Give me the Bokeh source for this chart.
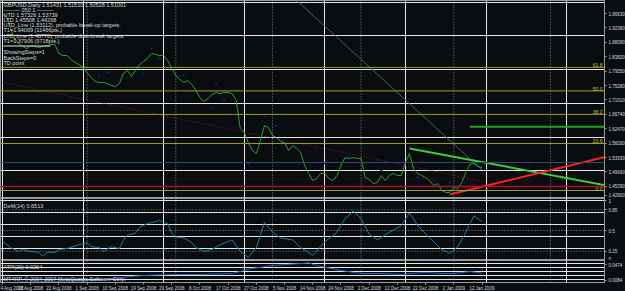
from bokeh.plotting import figure
from bokeh.layouts import column
from bokeh.models import (Range1d, LinearAxis, FixedTicker, NumeralTickFormatter,
                          Span, Label, BoxAnnotation)
from bokeh.embed import file_html
from bokeh.resources import INLINE

# ---------------- data ----------------
close = [1.9663, 1.9574, 1.9218, 1.8922, 1.8773, 1.8685, 1.8625, 1.8714, 1.8685, 1.8655,
         1.8685, 1.8714, 1.8744, 1.8744, 1.8477, 1.8418, 1.8418, 1.8299, 1.8210, 1.8151,
         1.8062, 1.7914, 1.7765, 1.7647, 1.7617, 1.7617, 1.7587, 1.7528, 1.7499, 1.7587,
         1.7884, 1.7973, 1.7795, 1.7973, 1.8151, 1.8240, 1.8329, 1.8477, 1.8447, 1.8418,
         1.8418, 1.8269, 1.8032, 1.7825, 1.7706, 1.7617, 1.7676, 1.7558, 1.7380, 1.7172,
         1.7054, 1.7143, 1.7261, 1.7321, 1.7291, 1.7321, 1.7321, 1.7291, 1.7083, 1.6253,
         1.6135, 1.5838, 1.5601, 1.5512, 1.5897, 1.6342, 1.6283, 1.6046, 1.5986, 1.5868,
         1.5838, 1.5601, 1.5749, 1.5660, 1.5542, 1.5156, 1.4919, 1.4711, 1.4771, 1.4919,
         1.4919, 1.4771, 1.4711, 1.4860, 1.5156, 1.5393, 1.5364, 1.5393, 1.5364, 1.5364,
         1.4800, 1.4741, 1.4622, 1.4652, 1.4860, 1.4711, 1.4860, 1.4919, 1.4860, 1.4860,
         1.5245, 1.5512, 1.5067, 1.4919, 1.4860, 1.4800, 1.4711, 1.4563, 1.4622, 1.4415,
         1.4356, 1.4356, 1.4504, 1.4474, 1.4652, 1.4949, 1.5186, 1.5215, 1.5126, 1.5100]
bars = list(range(len(close)))

td_bars = [14, 24, 26, 35, 37, 39, 45, 52, 53, 55, 61, 65, 68, 80, 86, 94, 103, 107, 111]
td_prices = [1.8773, 1.7825, 1.7914, 1.7884, 1.8625, 1.8329, 1.7825, 1.6876, 1.7587, 1.7083,
             1.5216, 1.6609, 1.6342, 1.5216, 1.5453, 1.5008, 1.4800, 1.4711, 1.4652]

fib_names = ["0.0", "23.6", "38.2", "50.0", "61.8"]
fib_prices = [1.4415, 1.5809, 1.6671, 1.7368, 1.8065]

reddot_bars = [0, 128]
reddot_prices = [1.7617, 1.4474]
thin_bars = [73, 119]
thin_prices = [2.0048, 1.5026]
utd_bars = [101, 150]
utd_prices = [1.5660, 1.4563]
ltd_bars = [111, 150]
ltd_prices = [1.4296, 1.5423]
target_bars = [116, 150]
target_prices = [1.6302, 1.6302]
hline_red = 1.4534
hline_blue = 1.5245

price_ticks = [1.96630, 1.92360, 1.88090, 1.83820, 1.79550, 1.75280, 1.71010,
               1.66740, 1.62470, 1.58200, 1.53930, 1.49660, 1.45390, 1.42800]
tag_prices = [1.52453, 1.51001, 1.45340]
tag_labels = ["1.52453", "1.51001", "1.45340"]

dem_bars = [0, 2, 4, 5, 7, 9, 10, 11, 13, 14, 16, 19, 21, 22, 24, 25, 27, 29, 30, 31,
            33, 34, 36, 37, 39, 40, 41, 42, 43, 45, 47, 48, 50, 52, 54, 57, 59, 61, 63, 65,
            67, 69, 72, 74, 77, 80, 83, 85, 87, 89, 91, 93, 96, 99, 101, 103, 106, 109, 111, 113,
            115, 117, 119]
dem_vals = [0.314, 0.211, 0.146, 0.179, 0.146, 0.130, 0.065, 0.130, 0.130, 0.179,
            0.195, 0.260, 0.293, 0.228, 0.211, 0.146, 0.228, 0.195, 0.341, 0.423,
            0.455, 0.553, 0.618, 0.634, 0.667, 0.634, 0.618, 0.455, 0.390, 0.374,
            0.293, 0.211, 0.146, 0.179, 0.260, 0.341, 0.146, 0.049, 0.211, 0.634,
            0.472, 0.374, 0.341, 0.211, 0.081, 0.309, 0.472, 0.699, 0.829, 0.699,
            0.439, 0.341, 0.472, 0.585, 0.797, 0.585, 0.374, 0.179, 0.114, 0.228,
            0.472, 0.748, 0.6513]
dem_levels = [0.85, 0.5, 0.15]
dem_ticks = [0, 0.15, 0.5, 0.85, 1]

atr_bars = [0, 12, 24, 27, 32, 35, 42, 49, 57, 62, 67, 74, 76, 78, 84, 89, 94, 99, 101,
            105, 109, 112, 116, 119]
atr_vals = [0.0035, 0.0060, 0.0084, 0.0133, 0.0182, 0.0206, 0.0230, 0.0230, 0.0255, 0.0377,
            0.0450, 0.0498, 0.0511, 0.0450, 0.0328, 0.0255, 0.0255, 0.0230, 0.0255, 0.0279,
            0.0255, 0.0255, 0.0303, 0.0264]
atr_ticks = [0.0084, 0.0474]

date_bars = [0, 7, 14, 21, 28, 35, 42, 49, 56, 63, 70, 77, 84, 91, 98, 105, 112, 119]
date_labels = ["4 Aug 2008", "13 Aug 2008", "22 Aug 2008", "1 Sep 2008", "10 Sep 2008",
               "19 Sep 2008", "29 Sep 2008", "8 Oct 2008", "17 Oct 2008", "27 Oct 2008",
               "5 Nov 2008", "14 Nov 2008", "24 Nov 2008", "3 Dec 2008", "12 Dec 2008",
               "22 Dec 2008", "2 Jan 2009", "12 Jan 2009"]
month_bars = [21, 43, 67, 89, 112, 136]

header_lines = ["GBPUSD,Daily  1.51431 1.51510 1.50528 1.51001",
                "\u2014\u2014\u2014  050 1  \u2014\u2014\u2014",
                "UTD  1.57326  1.53739",
                "LTD  1.45508  1.44268",
                "UTD_Line (1.53112), probable break-up targets:",
                "T1=1.94069 (11466pts.)",
                "LTD_Line (1.48776), probable downbreak targets:",
                "T1=1.37906 (9718pts.)"]
lower_lines = ["ShowingSteps=1", "BackSteps=0", "TD point"]

# ---------------- styling ----------------
BG = "#0a0d10"
FONT = "Liberation Sans"
AXC = "#9a9a9a"
TXT = "#d8d8d8"
FW = 604
xr = Range1d(-0.5, 149.4)


def base(fh, yr):
    p = figure(frame_width=FW, frame_height=fh, x_range=xr, y_range=yr,
               output_backend="svg", toolbar_location=None,
               x_axis_location=None, y_axis_location=None,
               min_border_left=0, min_border_right=0, min_border_top=0, min_border_bottom=0,
               background_fill_color=BG, border_fill_color=BG,
               outline_line_color=AXC, outline_line_width=1)
    for mb in month_bars:
        p.add_layout(Span(location=mb, dimension="height", line_color="#8a8a8a",
                          line_dash="1 2", line_width=1))
    return p


def raxis(p, ticks, fmt=None, overrides=None):
    ax = LinearAxis(ticker=FixedTicker(ticks=ticks), axis_line_color=AXC,
                    major_tick_line_color=AXC, major_tick_out=2, major_tick_in=0,
                    minor_tick_line_color=None, major_label_text_color=TXT,
                    major_label_text_font=FONT, major_label_text_font_size="4.5px",
                    major_label_standoff=2)
    if fmt is not None:
        ax.formatter = fmt
    if overrides is not None:
        ax.major_label_overrides = overrides
    p.add_layout(ax, "right")


def txt(p, x, y, s, color=TXT, size="5.5px", align="left", xu="screen", yu="screen",
        baseline="middle"):
    p.add_layout(Label(x=x, y=y, x_units=xu, y_units=yu, text=s, text_color=color,
                       text_font=FONT, text_font_size=size, text_align=align,
                       text_baseline=baseline))


# ---------------- main pane ----------------
MH = 198
p1 = base(MH, Range1d(1.41778, 2.00485))
for name, lv in zip(fib_names, fib_prices):
    p1.add_layout(Span(location=lv, dimension="width", line_color="#9c9c28", line_width=1))
    txt(p1, FW - 2, lv, name, color="#c8c83c", size="5px", align="right", yu="data",
        baseline="bottom")
p1.add_layout(Span(location=hline_blue, dimension="width", line_color="#2a4a78", line_width=1))
p1.add_layout(Span(location=hline_red, dimension="width", line_color="#b0102a", line_width=1.5))

p1.line(reddot_bars, reddot_prices, line_color="#8c1a3a", line_width=1, line_dash="1 2")
p1.line(thin_bars, thin_prices, line_color="#2f6e58", line_width=1)
p1.line(bars, close, line_color="#2ea02e", line_width=1)
p1.scatter(td_bars, td_prices, size=1.5, color="#1c1c96")
p1.line(target_bars, target_prices, line_color="#1fa01f", line_width=2)
p1.line(utd_bars, utd_prices, line_color="#3ccc3c", line_width=2)
p1.line(ltd_bars, ltd_prices, line_color="#ff2020", line_width=2)

raxis(p1, price_ticks, fmt=NumeralTickFormatter(format="0.00000"))

tag_bg = ["#1f8f1f", "#f0f0f0", "#e0305a"]
tag_fg = ["#e8ffe8", "#000000", "#ffffff"]
for tp, tl, bg, fg in zip(tag_prices, tag_labels, tag_bg, tag_fg):
    p1.add_layout(Label(x=FW + 1, y=tp, x_units="screen", y_units="data", text=tl,
                        text_color=fg, text_font=FONT, text_font_size="4.5px",
                        text_baseline="middle", background_fill_color=bg,
                        background_fill_alpha=1.0))

header_y = [4, 9.5, 14.5, 19.5, 24.5, 29.5, 35, 40.5]
for s, yc in zip(header_lines, header_y):
    txt(p1, 3, MH - yc, s)
p1.add_layout(BoxAnnotation(left=3, right=50, top=MH - 45, bottom=MH - 46,
                            left_units="screen", right_units="screen",
                            top_units="screen", bottom_units="screen",
                            fill_color="#e0e0e0", fill_alpha=1, line_color=None))
for s, yc in zip(lower_lines, [51.5, 57, 62.5]):
    txt(p1, 3, MH - yc, s)

# ---------------- DeMarker pane ----------------
DH = 62
p2 = base(DH, Range1d(-0.007, 1.041))
for lv in dem_levels:
    p2.add_layout(Span(location=lv, dimension="width", line_color="#8a8a8a",
                       line_dash="1 2", line_width=1))
p2.line(dem_bars, dem_vals, line_color="#1f7a9c", line_width=1)
raxis(p2, dem_ticks, overrides={0: "0", 0.15: "0.15", 0.5: "0.5", 0.85: "0.85", 1: "1"})
txt(p2, 3, DH - 7, "DeM(14) 0.6513")

# ---------------- ATR pane ----------------
AH = 22
p3 = base(AH, Range1d(0.0035, 0.0572))
p3.line(atr_bars, atr_vals, line_color="#1e60c0", line_width=1)
raxis(p3, atr_ticks, fmt=NumeralTickFormatter(format="0.0000"))
txt(p3, 3, AH - 6, "ATR(20) 0.0264")
txt(p3, 3, 3.5, "MT4RP, \u00a9 2004-2007 MetaQuotes Software Corp.")

xa = LinearAxis(ticker=FixedTicker(ticks=date_bars),
                major_label_overrides={b: l for b, l in zip(date_bars, date_labels)},
                axis_line_color=AXC, major_tick_line_color=AXC, major_tick_out=2,
                major_tick_in=0, minor_tick_line_color=None,
                major_label_text_color=TXT, major_label_text_font=FONT,
                major_label_text_font_size="4.5px", major_label_standoff=1,
                major_label_text_align="left")
p3.add_layout(xa, "below")

layout = column(p1, p2, p3, spacing=0, styles={"background-color": BG})
open("out.html", "w").write(file_html(layout, INLINE))
